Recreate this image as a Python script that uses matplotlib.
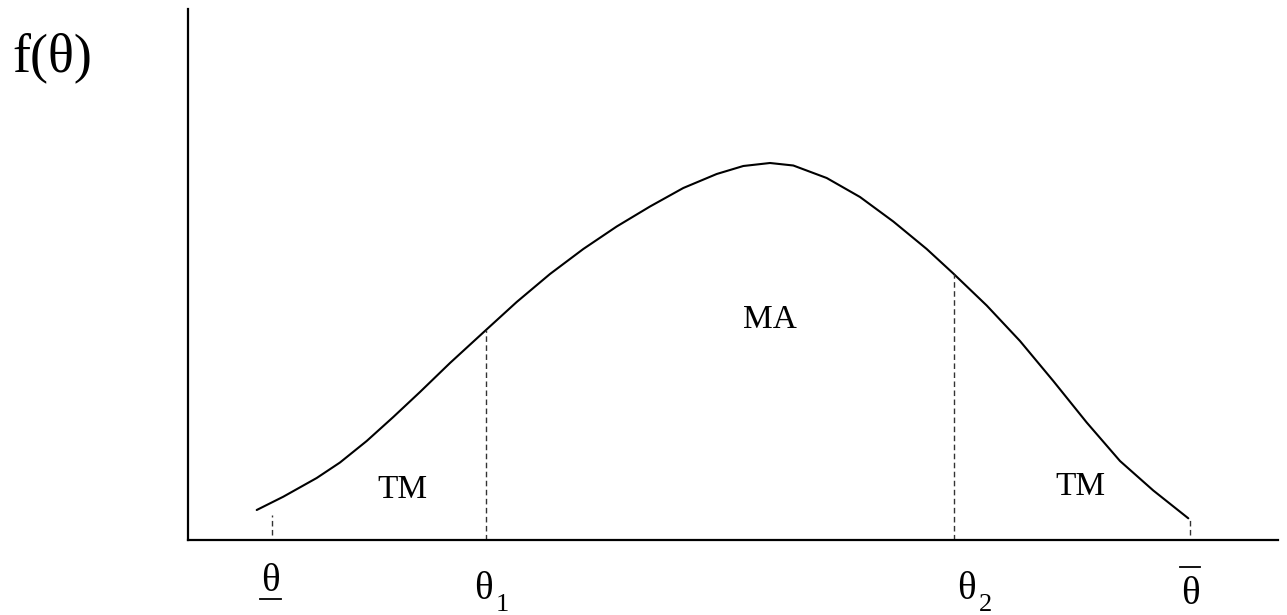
import matplotlib
matplotlib.use('Agg')
import matplotlib.pyplot as plt
from matplotlib import transforms

plt.rcParams['font.family'] = ['Liberation Serif', 'DejaVu Serif']

# ---- data (arbitrary units) ----
theta = [6.87, 9.53, 12.87, 15.2, 17.87, 20.53, 23.2, 26.2, 29.8, 32.87, 36.2,
         39.53, 42.87, 46.2, 49.53, 52.87, 55.53, 58.2, 60.53, 63.87, 67.2,
         70.53, 73.87, 76.53, 79.87, 83.2, 86.53, 89.87, 93.2, 96.53, 100.03]
density = [3.0, 4.33, 6.2, 7.75, 9.9, 12.3, 14.8, 17.7, 21.0, 23.8, 26.6,
           29.1, 31.35, 33.35, 35.2, 36.6, 37.4, 37.7, 37.45, 36.2, 34.3,
           31.85, 29.1, 26.65, 23.45, 19.9, 15.9, 11.75, 7.9, 4.95, 2.17]

cut_x = [8.4, 29.8, 76.6, 100.2]
cut_bottom = [0.5, 0.0, 0.0, 0.5]
cut_top = [2.5, 21.0, 26.6, 2.2]
cut_main = ['θ', 'θ', 'θ', 'θ']
cut_sub = ['', '1', '2', '']

region_labels = ['TM', 'MA', 'TM']
region_x = [21.4, 58.2, 89.2]
region_y = [5.0, 22.0, 5.3]

# ---- figure ----
W, H = 1287, 615
fig = plt.figure(figsize=(W / 100, H / 100), dpi=100)
ax = fig.add_axes([188 / W, (H - 540) / H, 1090 / W, 531 / H])
ax.set_xlim(0, 109)
ax.set_ylim(0, 53.1)

ax.plot(theta, density, color='black', lw=1.5, solid_joinstyle='round',
        solid_capstyle='round')
ax.vlines(cut_x, cut_bottom, cut_top, colors='#333333',
          linestyles=(0, (4, 2.5)), lw=1.0)

for s in ['top', 'right']:
    ax.spines[s].set_visible(False)
for s in ['left', 'bottom']:
    ax.spines[s].set_linewidth(1.6)
ax.set_xticks([])
ax.set_yticks([])

for lab, x, y in zip(region_labels, region_x, region_y):
    ax.text(x, y, lab, ha='center', va='center', fontsize=24)

blend = transforms.blended_transform_factory(ax.transData, ax.transAxes)
main_dx = [-0.2, -0.3, 1.2, 0.0]
main_base = [-0.0960, -0.1111, -0.1111, -0.1205]
sub_dx = [0, 1.0, 2.5, 0]
sub_base = -0.1337
for m, s, x, dx, b, sdx in zip(cut_main, cut_sub, cut_x, main_dx, main_base, sub_dx):
    ax.text(x + dx, b, m, transform=blend, ha='center', va='baseline',
            fontsize=28)
    if s:
        ax.text(x + sdx, sub_base, s, transform=blend, ha='left',
                va='baseline', fontsize=19)

# underline for lower bound, overline for upper bound
ax.plot([7.2, 9.3], [-0.1111, -0.1111], transform=blend, color='black',
        lw=1.3, clip_on=False)
ax.plot([99.2, 101.2], [-0.0508, -0.0508], transform=blend, color='black',
        lw=1.3, clip_on=False)

fig.text(12 / W, 1 - 71 / H, 'f(θ)', ha='left', va='baseline', fontsize=39)

fig.savefig('out.png', dpi=100, facecolor='white')
